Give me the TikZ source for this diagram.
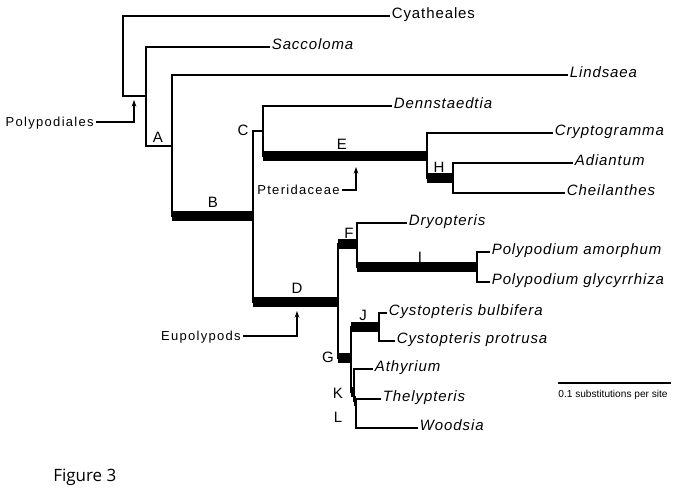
\documentclass[tikz,border=0pt]{standalone}
\usepackage{fontspec}
\setmainfont{Liberation Sans}
\newfontfamily\figfont{Open Sans}
\usetikzlibrary{arrows.meta}

\tikzset{
  br/.style={line width=1.4pt},
  thickbr/.style={line width=7.1pt},
  clade/.style={anchor=west,inner sep=1.2pt,text height=7pt,text depth=3.4pt,
    font=\fontsize{11.25}{13}\selectfont\addfontfeature{LetterSpace=6}},
  taxon/.style={clade,font=\fontsize{11.25}{13}\selectfont\itshape\addfontfeature{LetterSpace=6}},
  lab/.style={inner sep=0pt,font=\fontsize{11.25}{13}\selectfont},
  callout/.style={anchor=east,inner sep=1.5pt,text height=7pt,text depth=0.5pt,
    font=\fontsize{9.75}{11}\selectfont\addfontfeature{LetterSpace=10}},
  pointer/.style={line width=0.9pt,-{Stealth[length=5pt,width=3.5pt]}}
}

\begin{document}
\begin{tikzpicture}[x=0.75pt,y=-0.75pt]
	\useasboundingbox (0,0) rectangle (683,493);
	% inner nodes of the tree
	\coordinate (r0) at (123,56);
	\coordinate (n1) at (146,96);
	\coordinate (nA) at (172,146);
	\coordinate (nB) at (253,216);
	\coordinate (nC) at (263,131);
	\coordinate (nE) at (427,156);
	\coordinate (nH) at (453,178);
	\coordinate (nD) at (338,302);
	\coordinate (nF) at (357,244);
	\coordinate (nI) at (477,267);
	\coordinate (nG) at (351,358);
	\coordinate (nJ) at (379,327);
	\coordinate (nK) at (354,392);
	\coordinate (nL) at (356,401);
	% tips
	\node[clade] (cyat) at (390,16) {Cyatheales};
	\node[taxon] (sacc) at (270,47) {Saccoloma};
	\node[taxon] (lind) at (568,75) {Lindsaea};
	\node[taxon] (denn) at (392,106) {Dennstaedtia};
	\node[taxon] (cryp) at (553,133) {Cryptogramma};
	\node[taxon] (adia) at (573,163) {Adiantum};
	\node[taxon] (chei) at (565,193) {Cheilanthes};
	\node[taxon] (dryo) at (407,223) {Dryopteris};
	\node[taxon] (pamo) at (490,252) {Polypodium amorphum};
	\node[taxon] (pgly) at (490,282) {Polypodium glycyrrhiza};
	\node[taxon] (cbul) at (387,313) {Cystopteris bulbifera};
	\node[taxon] (cpro) at (395,341) {Cystopteris protrusa};
	\node[taxon] (athy) at (373,369) {Athyrium};
	\node[taxon] (thel) at (381,399) {Thelypteris};
	\node[taxon] (wood) at (418,428) {Woodsia};
	% branches
	\draw[br] (r0) |- (cyat.west);
	\draw[br] (r0) |- (n1);
	\draw[br] (n1) |- (sacc.west);
	\draw[br] (n1) |- (nA);
	\draw[br] (nA) |- (lind.west);
	\draw[br] (nA) |- (nB);
	\draw[thickbr] (nA |- nB) -- (nB);
	\draw[br] (nB) |- (nC);
	\draw[br] (nC) |- (denn.west);
	\draw[br] (nC) |- (nE);
	\draw[thickbr] (nC |- nE) -- (nE);
	\draw[br] (nE) |- (cryp.west);
	\draw[br] (nE) |- (nH);
	\draw[thickbr] (nE |- nH) -- (nH);
	\draw[br] (nH) |- (adia.west);
	\draw[br] (nH) |- (chei.west);
	\draw[br] (nB) |- (nD);
	\draw[thickbr] (nB |- nD) -- (nD);
	\draw[br] (nD) |- (nF);
	\draw[thickbr] (nD |- nF) -- (nF);
	\draw[br] (nF) |- (dryo.west);
	\draw[br] (nF) |- (nI);
	\draw[thickbr] (nF |- nI) -- (nI);
	\draw[br] (nI) |- (pamo.west);
	\draw[br] (nI) |- (pgly.west);
	\draw[br] (nD) |- (nG);
	\draw[thickbr] (nD |- nG) -- (nG);
	\draw[br] (nG) |- (nJ);
	\draw[thickbr] (nG |- nJ) -- (nJ);
	\draw[br] (nJ) |- (cbul.west);
	\draw[br] (nJ) |- (cpro.west);
	\draw[br] (nG) |- (nK);
	\draw[thickbr] (nG |- nK) -- (nK);
	\draw[br] (nK) |- (athy.west);
	\draw[br] (nK) |- (nL);
	\draw[thickbr] (nK |- nL) -- (nL);
	\draw[br] (nL) |- (thel.west);
	\draw[br] (nL) |- (wood.west);
	% node letters
	\node[lab] (lA) at (158,137) {A};
	\node[lab] (lB) at (213,202) {B};
	\node[lab] (lC) at (243,130) {C};
	\node[lab] (lD) at (297,288) {D};
	\node[lab] (lE) at (342,144) {E};
	\node[lab] (lF) at (349,233) {F};
	\node[lab] (lG) at (328,357) {G};
	\node[lab] (lH) at (439,167) {H};
	\node[lab] (lI) at (420,257) {I};
	\node[lab] (lJ) at (363,315) {J};
	\node[lab] (lK) at (338,393) {K};
	\node[lab] (lL) at (338,417) {L};
	% named clades
	\node[callout] (poly) at (96,122) {Polypodiales};
	\coordinate (polyto) at (134,100);
	\draw[pointer] (poly.east) -| (polyto);
	\node[callout] (pter) at (342,190) {Pteridaceae};
	\coordinate (pterto) at (356,167);
	\draw[pointer] (pter.east) -| (pterto);
	\node[callout] (eupo) at (243,336) {Eupolypods};
	\coordinate (eupoto) at (297,311);
	\draw[pointer] (eupo.east) -| (eupoto);
	% scale
	\coordinate (sb1) at (558,383);
	\coordinate (sb2) at (671,383);
	\draw[br] (sb1) -- (sb2);
	\node[inner sep=0pt,font=\fontsize{7.6}{9}\selectfont] (sbtxt) at (613,395) {0.1 substitutions per site};
	\node[anchor=base west,inner sep=0pt,font=\figfont\fontsize{12.75}{15}\selectfont] (fig) at (53,481.5) {Figure 3};
\end{tikzpicture}
\end{document}
